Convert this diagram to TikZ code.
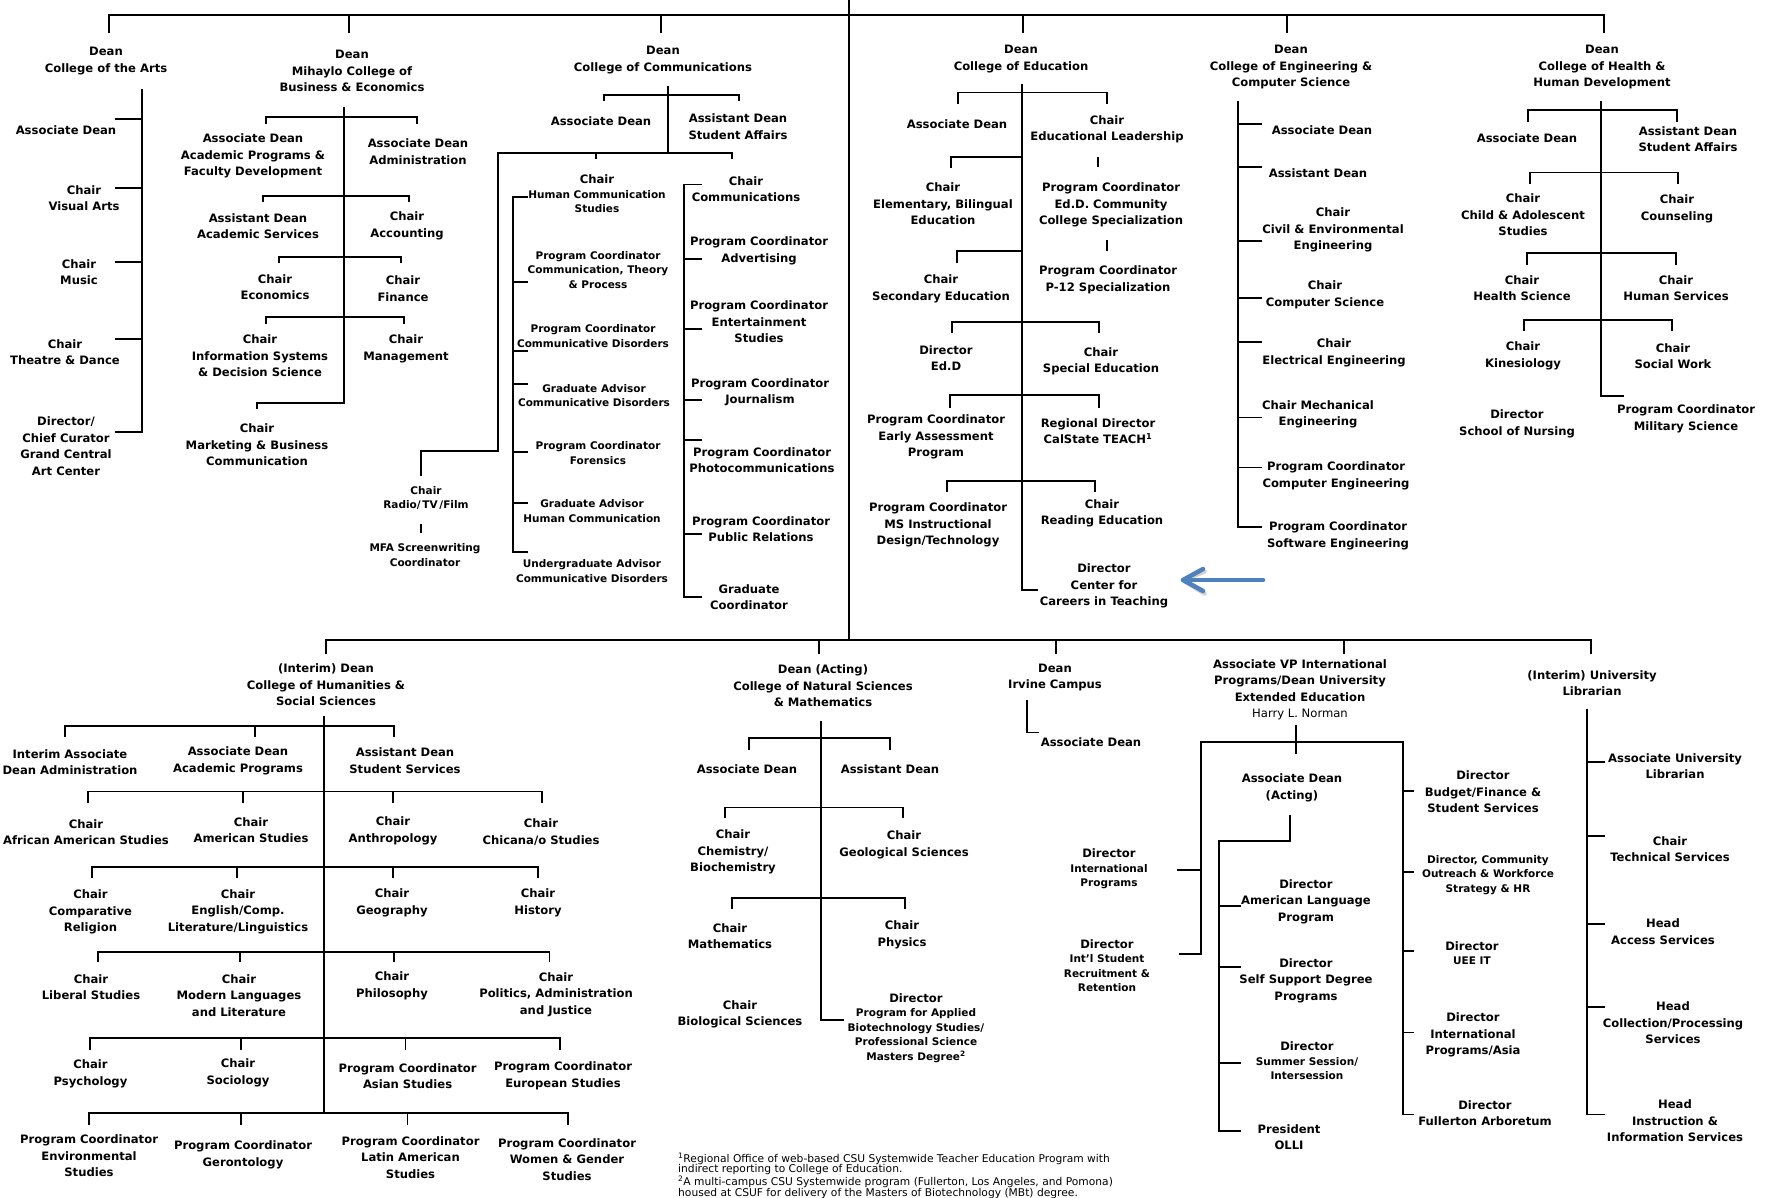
\documentclass[tikz,border=0pt]{standalone}
\usepackage{fontspec}
\setmainfont{DejaVu Sans}
\usetikzlibrary{arrows.meta}
\definecolor{arrblue}{HTML}{4F81BD}
\newcommand\smf{\fontsize{10.5}{14.5}\selectfont}
\newcommand\nmf{\fontsize{11.6}{16.5}\selectfont}
\begin{document}
\begin{tikzpicture}[x=1pt,y=-1pt,
  lbl/.style={align=center,inner sep=0pt,font=\bfseries\nmf},
  lbls/.style={align=center,inner sep=0pt,font=\bfseries\smf},
  conn/.style={line width=1.7pt,line join=miter,line cap=rect},
  arr/.style={arrblue,line width=4.5pt,line cap=round,line join=round}]
\fill[white] (0,0) rectangle (1767,1197);
\useasboundingbox (0,0) rectangle (1767,1197);

% ---------- top level ----------
\draw[conn] (849,0) -- (849,640);
\draw[conn] (109,32) |- (1604,15) -- (1604,32);
\foreach \x in {349,661,1023,1287} \draw[conn] (\x,15) -- (\x,32);

% ---------- Arts ----------
\node[lbl] (arts) at (106,61) {Dean\\College of the Arts};
\draw[conn] (142,90) -- (142,432);
\foreach \y in {119,188,262,339,432} \draw[conn] (116,\y) -- (142,\y);
\node[lbl] (a1) at (66,130) {Associate Dean};
\node[lbl] (a2) at (84,198) {Chair\\Visual Arts};
\node[lbl] (a3) at (79,272) {Chair\\Music};
\node[lbl] (a4) at (65,352) {Chair\\Theatre \& Dance};
\node[lbl] (a5) at (66,446) {Director/\\Chief Curator\\Grand Central\\Art Center};

% ---------- Business ----------
\node[lbl] (bus) at (352,71) {Dean\\Mihaylo College of\\Business \& Economics};
\draw[conn] (344,108) -- (344,403) -- (257,403) -- (257,408);
\draw[conn] (266,123) |- (417,117) -- (417,123);
\draw[conn] (263,201) |- (409,196) -- (409,201);
\draw[conn] (279,262) |- (401,257) -- (401,262);
\draw[conn] (266,323) |- (404,317) -- (404,323);
\node[lbl] (b1) at (253,156) {Associate Dean\\Academic Programs \&\\Faculty Development};
\node[lbl] (b2) at (418,151.5) {Associate Dean\\Administration};
\node[lbl] (b3) at (258,226) {Assistant Dean\\Academic Services};
\node[lbl] (b4) at (407,226) {Chair\\Accounting};
\node[lbl] (b5) at (275,287) {Chair\\Economics};
\node[lbl] (b6) at (403,288.5) {Chair\\Finance};
\node[lbl] (b7) at (260,356) {Chair\\Information Systems\\\& Decision Science};
\node[lbl] (b8) at (406,349) {Chair\\Management};
\node[lbl] (b9) at (257,445) {Chair\\Marketing \& Business\\Communication};

% ---------- Communications ----------
\node[lbl] (com) at (663,60) {Dean\\College of Communications};
\draw[conn] (668,86.5) -- (668,153);
\draw[conn] (604,100) |- (739,95) -- (739,100);
\node[lbl] (c1) at (601,121) {Associate Dean};
\node[lbl] (c2) at (738,126.5) {Assistant Dean\\Student Affairs};
\draw[conn] (421,475) -- (421,451) -- (498,451) -- (498,153) -- (732,153) -- (732,158);
\draw[conn] (596,153) -- (596,158);
% left column
\draw[conn] (513,197) -- (513,552);
\foreach \y in {197,282,351,384,452,503,552} \draw[conn] (513,\y) -- (527,\y);
\node[lbls] (cl0) at (597,194) {{\nmf Chair}\\Human Communication\\Studies};
\node[lbls] (cl1) at (598,270) {Program Coordinator\\Communication, Theory\\\& Process};
\node[lbls] (cl2) at (593,336) {Program Coordinator\\Communicative Disorders};
\node[lbls] (cl3) at (594,395.5) {Graduate Advisor\\Communicative Disorders};
\node[lbls] (cl4) at (598,453) {Program Coordinator\\Forensics};
\node[lbls] (cl5) at (592,511) {Graduate Advisor\\Human Communication};
\node[lbls] (cl6) at (592,571) {Undergraduate Advisor\\Communicative Disorders};
% right column
\draw[conn] (684,184.5) -- (684,597);
\foreach \y in {184.5,259,329,400,440,534,597} \draw[conn] (684,\y) -- (701,\y);
\node[lbl] (cr0) at (746,189) {Chair\\Communications};
\node[lbl] (cr1) at (759,251) {Program Coordinator\\Advertising};
\node[lbl] (cr2) at (759,322) {Program Coordinator\\Entertainment\\Studies};
\node[lbl] (cr3) at (760,392) {Program Coordinator\\Journalism};
\node[lbl] (cr4) at (762,460) {Program Coordinator\\Photocommunications};
\node[lbl] (cr5) at (761,529) {Program Coordinator\\Public Relations};
\node[lbl] (cr6) at (749,597) {Graduate\\Coordinator};
% radio
\node[lbls] (rad) at (426,498) {Chair\\Radio/\,TV\,/Film};
\draw[conn] (421,525) -- (421,532);
\node[lbls] (mfa) at (425,555) {MFA Screenwriting\\Coordinator};

% ---------- Education ----------
\node[lbl] (edu) at (1021,59) {Dean\\College of Education};
\draw[conn] (1022,84.5) -- (1022,590) -- (1037,590);
\draw[conn] (958,103) |- (1107,92.5) -- (1107,103);
\node[lbl] (e1) at (957,124) {Associate Dean};
\node[lbl] (e2) at (1107,129.5) {Chair\\Educational Leadership};
\draw[conn] (1098,157.5) -- (1098,166);
\node[lbl] (e3) at (1111,205) {Program Coordinator\\Ed.D. Community\\College Specialization};
\draw[conn] (1107,241) -- (1107,250);
\node[lbl] (e4) at (1108,280) {Program Coordinator\\P-12 Specialization};
\draw[conn] (1022,157) -- (951,157) -- (951,167);
\node[lbl] (e5) at (943,204) {Chair\\Elementary, Bilingual\\Education};
\draw[conn] (1022,251) -- (957,251) -- (957,262);
\node[lbl] (e6) at (941,289) {Chair\\Secondary Education};
\draw[conn] (952,332.5) |- (1099,322) -- (1099,332.5);
\node[lbl] (e7) at (946,358) {Director\\Ed.D};
\node[lbl] (e8) at (1101,361.5) {Chair\\Special Education};
\draw[conn] (950,407) |- (1099,395) -- (1099,407);
\node[lbl] (e9) at (936,437) {Program Coordinator\\Early Assessment\\Program};
\node[lbl] (e10) at (1098,431) {Regional Director\\CalState TEACH\textsuperscript{1}};
\draw[conn] (947,491) |- (1095,481) -- (1095,491);
\node[lbl] (e11) at (938,525) {Program Coordinator\\MS Instructional\\Design/Technology};
\node[lbl] (e12) at (1102,513.5) {Chair\\Reading Education};
\node[lbl] (e13) at (1104,586) {Director\\Center for\\Careers in Teaching};
% blue arrow
\coordinate (arS) at (1263,580);
\coordinate (arE) at (1183,580);
\begin{scope}[shift={(1.5,2.5)}]
\draw[arr,draw=black!18] (arS) -- (arE);
\draw[arr,draw=black!18] (1203,569) -- (arE) -- (1203,591);
\end{scope}
\draw[arr] (arS) -- (arE);
\draw[arr] (1203,569) -- (arE) -- (1203,591);

% ---------- Engineering ----------
\node[lbl] (eng) at (1291,67) {Dean\\College of Engineering \&\\Computer Science};
\draw[conn] (1238,102) -- (1238,527);
\foreach \y in {124,167,241,298,342,417.5,467.5,527} \draw[conn] (1238,\y) -- (1261,\y);
\node[lbl] (g1) at (1322,130) {Associate Dean};
\node[lbl] (g2) at (1318,173) {Assistant Dean};
\node[lbl] (g3) at (1333,230) {Chair\\Civil \& Environmental\\Engineering};
\node[lbl] (g4) at (1325,295) {Chair\\Computer Science};
\node[lbl] (g5) at (1334,353) {Chair\\Electrical Engineering};
\node[lbl] (g6) at (1318,414.5) {Chair Mechanical\\Engineering};
\node[lbl] (g7) at (1336,476) {Program Coordinator\\Computer Engineering};
\node[lbl] (g8) at (1338,536) {Program Coordinator\\Software Engineering};

% ---------- Health ----------
\node[lbl] (hl) at (1602,67) {Dean\\College of Health \&\\Human Development};
\draw[conn] (1601,102) -- (1601,396) -- (1623,396);
\draw[conn] (1528,121) |- (1677,110) -- (1677,121);
\draw[conn] (1530,183) |- (1678,172.6) -- (1678,183);
\draw[conn] (1527,264) |- (1676,253) -- (1676,264);
\draw[conn] (1524,330.5) |- (1672,320) -- (1672,330.5);
\node[lbl] (h1) at (1527,138.5) {Associate Dean};
\node[lbl] (h2) at (1688,139) {Assistant Dean\\Student Affairs};
\node[lbl] (h3) at (1523,215) {Chair\\Child \& Adolescent\\Studies};
\node[lbl] (h4) at (1677,209) {Chair\\Counseling};
\node[lbl] (h5) at (1522,288) {Chair\\Health Science};
\node[lbl] (h6) at (1676,288) {Chair\\Human Services};
\node[lbl] (h7) at (1523,356) {Chair\\Kinesiology};
\node[lbl] (h8) at (1673,356) {Chair\\Social Work};
\node[lbl] (h9) at (1517,424) {Director\\School of Nursing};
\node[lbl] (h10) at (1686,419) {Program Coordinator\\Military Science};

% ---------- bottom level ----------
\draw[conn] (326,653) |- (1591,640) -- (1591,653);
\foreach \x in {819,1056,1344} \draw[conn] (\x,640) -- (\x,653);

% ---------- Humanities ----------
\node[lbl] (hum) at (326,685) {(Interim) Dean\\College of Humanities \&\\Social Sciences};
\draw[conn] (324,716.7) -- (324,1113);
\draw[conn] (65,736) |- (394,726) -- (394,736);
\draw[conn] (255,726) -- (255,736);
\draw[conn] (88,802) |- (542,791.6) -- (542,802);
\foreach \x in {243,393} \draw[conn] (\x,791.6) -- (\x,802);
\draw[conn] (92,877) |- (538,867) -- (538,877);
\foreach \x in {237,393} \draw[conn] (\x,867) -- (\x,877);
\draw[conn] (98,961) |- (549.5,952) -- (549.5,961);
\foreach \x in {240,394} \draw[conn] (\x,952) -- (\x,961);
\draw[conn] (90,1049) |- (560,1038) -- (560,1049);
\foreach \x in {241,405.5} \draw[conn] (\x,1038) -- (\x,1049);
\draw[conn] (89,1124.5) |- (568,1113) -- (568,1124.5);
\foreach \x in {241,407.6} \draw[conn] (\x,1113) -- (\x,1124.5);
\node[lbl] (r1a) at (70,762) {Interim Associate\\Dean Administration};
\node[lbl] (r1b) at (238,761) {Associate Dean\\Academic Programs};
\node[lbl] (r1c) at (405,760.5) {Assistant Dean\\Student Services};
\node[lbl] (r2a) at (86,832) {Chair\\African American Studies};
\node[lbl] (r2b) at (251,830) {Chair\\American Studies};
\node[lbl] (r2c) at (393,831) {Chair\\Anthropology};
\node[lbl] (r2d) at (541,832) {Chair\\Chicana/o Studies};
\node[lbl] (r3a) at (90.5,912) {Chair\\Comparative\\Religion};
\node[lbl] (r3b) at (238,911.6) {Chair\\English/Comp.\\Literature/Linguistics};
\node[lbl] (r3c) at (392,903) {Chair\\Geography};
\node[lbl] (r3d) at (538,903) {Chair\\History};
\node[lbl] (r4a) at (91,987) {Chair\\Liberal Studies};
\node[lbl] (r4b) at (239,995.6) {Chair\\Modern Languages\\and Literature};
\node[lbl] (r4c) at (392,986) {Chair\\Philosophy};
\node[lbl] (r4d) at (556,994.5) {Chair\\Politics, Administration\\and Justice};
\node[lbl] (r5a) at (90.5,1074) {Chair\\Psychology};
\node[lbl] (r5b) at (238,1073) {Chair\\Sociology};
\node[lbl] (r5c) at (407.6,1076) {Program Coordinator\\Asian Studies};
\node[lbl] (r5d) at (563,1076) {Program Coordinator\\European Studies};
\node[lbl] (r6a) at (89,1155.8) {Program Coordinator\\Environmental\\Studies};
\node[lbl] (r6b) at (243,1154.6) {Program Coordinator\\Gerontology};
\node[lbl] (r6c) at (410.5,1157.6) {Program Coordinator\\Latin American\\Studies};
\node[lbl] (r6d) at (567,1159.5) {Program Coordinator\\Women \& Gender\\Studies};

% ---------- Natural Sciences ----------
\node[lbl] (ns) at (823,686) {Dean (Acting)\\College of Natural Sciences\\\& Mathematics};
\draw[conn] (821,721.5) -- (821,1020) -- (843,1020);
\draw[conn] (749,749) |- (890,738) -- (890,749);
\draw[conn] (725,817) |- (903,807.5) -- (903,817);
\draw[conn] (732,908) |- (905,898) -- (905,908);
\node[lbl] (n1) at (747,769.5) {Associate Dean};
\node[lbl] (n2) at (890,769.5) {Assistant Dean};
\node[lbl] (n3) at (733,852) {Chair\\Chemistry/\\Biochemistry};
\node[lbl] (n4) at (904,845) {Chair\\Geological Sciences};
\node[lbl] (n5) at (730,936) {Chair\\Mathematics};
\node[lbl] (n6) at (902,935) {Chair\\Physics};
\node[lbl] (n7) at (740,1014.5) {Chair\\Biological Sciences};
\node[lbls] (n8) at (916,1028) {{\nmf Director}\\Program for Applied\\Biotechnology Studies/\\Professional Science\\Masters Degree\textsuperscript{2}};

% ---------- Irvine ----------
\node[lbl] (irv) at (1055,677.7) {Dean\\Irvine Campus};
\draw[conn] (1027,701) -- (1027,732.5) -- (1038,732.5);
\node[lbl] (i1) at (1091,742) {Associate Dean};

% ---------- Extended Education ----------
\node[lbl] (intl) at (1300,690) {Associate VP International\\Programs/Dean University\\Extended Education\\{\mdseries Harry L. Norman}};
\draw[conn] (1296,726) -- (1296,753.6);
\draw[conn] (1201,954) -- (1201,742) -- (1403,742) -- (1403,1114.5);
\draw[conn] (1178,870) -- (1201,870);
\draw[conn] (1180,954) -- (1201,954);
\foreach \y in {791,872,951,1032.5,1114.5} \draw[conn] (1403,\y) -- (1413,\y);
\node[lbl] (ad) at (1292,788) {Associate Dean\\(Acting)};
\draw[conn] (1290,815.6) -- (1290,840.7) -- (1219,840.7) -- (1219,1131);
\foreach \y in {906,967,1063,1131} \draw[conn] (1219,\y) -- (1240,\y);
\node[lbls] (d1) at (1109,869) {{\nmf Director}\\International\\Programs};
\node[lbls] (d2) at (1107,965.5) {{\nmf Director}\\Int'l Student\\Recruitment \&\\Retention};
\node[lbl] (d3) at (1306,901.5) {Director\\American Language\\Program};
\node[lbl] (d4) at (1306,980.5) {Director\\Self Support Degree\\Programs};
\node[lbls] (d5) at (1307,1061) {{\nmf Director}\\Summer Session/\\Intersession};
\node[lbl] (d6) at (1289,1137) {President\\OLLI};
\node[lbl] (q1) at (1483,792) {Director\\Budget/Finance \&\\Student Services};
\node[lbls] (q2) at (1488,875) {Director, Community\\Outreach \& Workforce\\Strategy \& HR};
\node[lbls] (q3) at (1472,953) {{\nmf Director}\\UEE IT};
\node[lbl] (q4) at (1473,1035) {Director\\International\\Programs/Asia};
\node[lbl] (q5) at (1485,1113) {Director\\Fullerton Arboretum};

% ---------- Library ----------
\node[lbl] (lib) at (1592,683) {(Interim) University\\Librarian};
\draw[conn] (1587,710) -- (1587,1114.5);
\foreach \y in {762,836,923.7,1006.7,1114.5} \draw[conn] (1587,\y) -- (1604,\y);
\node[lbl] (l1) at (1675,766) {Associate University\\Librarian};
\node[lbl] (l2) at (1670,849) {Chair\\Technical Services};
\node[lbl] (l3) at (1663,931.5) {Head\\Access Services};
\node[lbl] (l4) at (1673,1023) {Head\\Collection/Processing\\Services};
\node[lbl] (l5) at (1675,1121) {Head\\Instruction \&\\Information Services};

% ---------- footnotes ----------
\node[anchor=north west,align=left,inner sep=0pt,font=\fontsize{10.7}{10.6}\selectfont] (fn) at (678,1152.5)
 {\textsuperscript{1}Regional Office of web-based CSU Systemwide Teacher Education Program with\\
  indirect reporting to College of Education.\\
  \textsuperscript{2}A multi-campus CSU Systemwide program (Fullerton, Los Angeles, and Pomona)\\
  housed at CSUF for delivery of the Masters of Biotechnology (MBt) degree.};
\end{tikzpicture}
\end{document}
